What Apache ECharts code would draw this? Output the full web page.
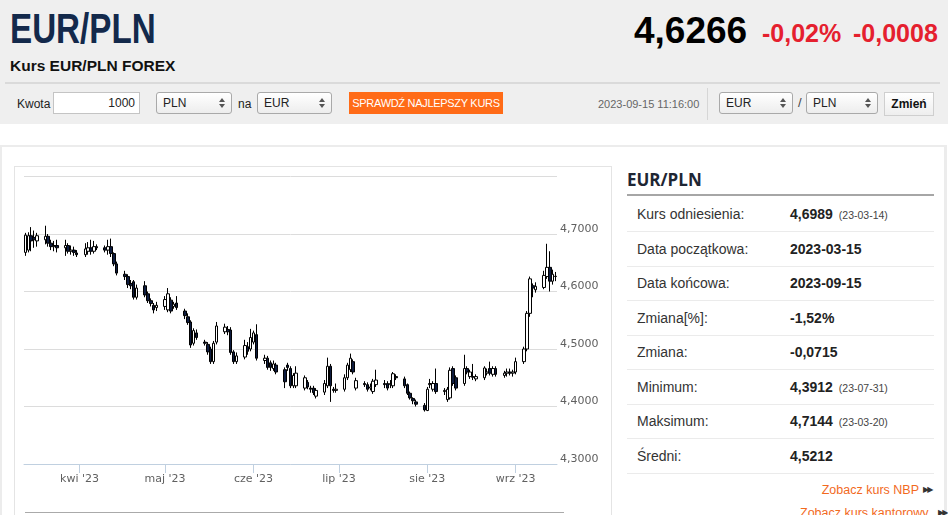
<!DOCTYPE html>
<html><head><meta charset="utf-8">
<script src="https://cdn.jsdelivr.net/npm/echarts@6.0.0/dist/echarts.min.js"></script>
<style>
html,body{margin:0;padding:0;width:948px;height:515px;overflow:hidden;background:#fff;font-family:Arial,"Liberation Sans",sans-serif;color:#222;}
.a{position:absolute;white-space:nowrap;}
.sel{position:absolute;top:92px;height:22px;box-sizing:border-box;border:1px solid #a9a9a9;border-radius:3px;background:linear-gradient(#ffffff,#ededed);font-size:12px;line-height:20px;padding-left:6px;color:#222;}
.sel::before,.sel::after{content:"";position:absolute;right:6px;width:0;height:0;border-left:3px solid transparent;border-right:3px solid transparent;}
.sel::before{top:5px;border-bottom:4px solid #555;}
.sel::after{top:11px;border-top:4px solid #555;}
.row{position:absolute;left:627px;width:307px;height:34px;border-bottom:1px solid #ebebeb;font-size:14px;}
.row .l{position:absolute;left:10px;top:0;line-height:34px;color:#333;}
.row .v{position:absolute;left:163px;top:0;line-height:34px;font-weight:bold;color:#222;}
.row .v small{font-weight:normal;font-size:10.5px;color:#444;margin-left:6px;}
</style></head>
<body>
<div class="a" style="left:0;top:0;width:948px;height:124px;background:#efefef;"></div>
<div class="a" style="left:10px;top:8px;font-size:42px;line-height:42px;font-weight:bold;color:#13294b;transform:scaleX(0.79);transform-origin:left top;">EUR/PLN</div>
<div class="a" style="left:634px;top:12px;font-size:37px;line-height:37px;font-weight:bold;color:#000;">4,6266</div>
<div class="a" style="left:762px;top:21px;font-size:25px;line-height:25px;font-weight:bold;color:#e5202e;">-0,02%</div>
<div class="a" style="left:853px;top:21px;font-size:25px;line-height:25px;font-weight:bold;color:#e5202e;">-0,0008</div>
<div class="a" style="left:10px;top:58px;font-size:15.5px;line-height:15.5px;font-weight:bold;color:#111;">Kurs EUR/PLN FOREX</div>
<div class="a" style="left:5px;top:82px;width:935px;height:2px;background:#dadada;"></div>
<div class="a" style="left:17px;top:97px;font-size:12px;line-height:14px;color:#222;">Kwota</div>
<div class="a" style="left:53px;top:92px;width:87px;height:22px;box-sizing:border-box;border:1px solid #c4c4c4;background:#fff;font-size:12px;line-height:20px;text-align:right;padding-right:4px;">1000</div>
<div class="sel" style="left:156px;width:76px;">PLN</div>
<div class="a" style="left:238px;top:97px;font-size:12px;line-height:14px;">na</div>
<div class="sel" style="left:257px;width:75px;">EUR</div>
<div class="a" style="left:349px;top:92px;width:154px;height:22px;background:#ff6b17;color:#fff;font-size:11px;line-height:22px;text-align:center;letter-spacing:-0.3px;">SPRAWDŹ NAJLEPSZY KURS</div>
<div class="a" style="left:598px;top:98px;font-size:11px;line-height:12px;color:#666;">2023-09-15 11:16:00</div>
<div class="a" style="left:707px;top:88px;width:1px;height:32px;background:#d6d6d6;"></div>
<div class="sel" style="left:719px;width:74px;">EUR</div>
<div class="a" style="left:798px;top:96px;font-size:13px;line-height:14px;color:#444;">/</div>
<div class="sel" style="left:806px;width:72px;">PLN</div>
<div class="a" style="left:884px;top:92px;width:50px;height:24px;box-sizing:border-box;border:1px solid #cfcfcf;background:linear-gradient(#ffffff,#eeeeee);font-size:12px;line-height:22px;font-weight:bold;text-align:center;color:#111;">Zmień</div>

<div class="a" style="left:0;top:145px;width:942px;height:380px;border-top:2px solid #ececec;border-left:2px solid #ececec;border-right:3px solid #ececec;"></div>
<div class="a" style="left:14px;top:166px;width:596px;height:360px;border:1px solid #e4e4e4;"></div>
<div id="chart" class="a" style="left:15px;top:167px;width:596px;height:348px;"></div>
<div class="a" style="left:25px;top:512px;width:539px;height:1px;background:#aaaaaa;"></div>

<div class="a" style="left:627px;top:169px;font-family:'Open Sans',Arial,sans-serif;font-size:17px;line-height:22px;font-weight:bold;color:#1e2633;">EUR/PLN</div>
<div class="a" style="left:627px;top:194px;width:307px;height:2px;background:#a6a6a6;"></div>
<div class="row" style="top:197px;"><span class="l">Kurs odniesienia:</span><span class="v">4,6989<small>(23-03-14)</small></span></div>
<div class="row" style="top:231.5px;"><span class="l">Data początkowa:</span><span class="v">2023-03-15</span></div>
<div class="row" style="top:266px;"><span class="l">Data końcowa:</span><span class="v">2023-09-15</span></div>
<div class="row" style="top:300.5px;"><span class="l">Zmiana[%]:</span><span class="v">-1,52%</span></div>
<div class="row" style="top:335px;"><span class="l">Zmiana:</span><span class="v">-0,0715</span></div>
<div class="row" style="top:369.5px;"><span class="l">Minimum:</span><span class="v">4,3912<small>(23-07-31)</small></span></div>
<div class="row" style="top:404px;"><span class="l">Maksimum:</span><span class="v">4,7144<small>(23-03-20)</small></span></div>
<div class="row" style="top:438.5px;"><span class="l">Średni:</span><span class="v">4,5212</span></div>
<div class="a" style="right:29px;top:483px;font-size:12.5px;line-height:14px;color:#f26a1e;">Zobacz kurs NBP</div>
<div class="a" style="left:923px;top:484px;font-family:'DejaVu Sans';font-size:8px;line-height:12px;color:#333;letter-spacing:-2px;">▶▶</div>
<div class="a" style="left:800px;top:506px;font-size:12.5px;line-height:14px;color:#f26a1e;">Zobacz kurs kantorowy</div>
<div class="a" style="left:938px;top:507px;font-family:'DejaVu Sans';font-size:8px;line-height:12px;color:#333;letter-spacing:-2px;">▶▶</div>

<script>
// calendar range shown on the x axis
const firstDay = '2023-03-13';
const lastDay = '2023-09-15';
const monthNames = ['sty','lut','mar','kwi','maj','cze','lip','sie','wrz','paź','lis','gru'];
const yTicks = { min: 4.3, max: 4.8, step: 0.1 };

// OHLC per trading day (Mon–Fri) from 2023-03-13 to 2023-09-15
const opens = [
4.668,4.672,4.697,4.694,4.688, 4.690,4.696,4.684,4.678,4.680, 4.676,4.680,4.670,4.672,4.667,
4.664,4.670,4.676,4.670,4.678, 4.676,4.672,4.678,4.666,4.648, 4.630,4.626,4.614,4.617,4.590,
4.610,4.596,4.584,4.576,4.572, 4.574,4.568,4.585,4.574,4.580, 4.566,4.556,4.547,4.510,4.528,
4.512,4.508,4.500,4.478,4.512, 4.530,4.534,4.533,4.495,4.478, 4.486,4.504,4.500,4.512,4.525,
4.480,4.484,4.476,4.466,4.472, 4.464,4.472,4.466,4.436,4.436, 4.432,4.442,4.432,4.432,4.418,
4.425,4.436,4.470,4.430,4.428, 4.430,4.450,4.464,4.478,4.432, 4.440,4.438,4.432,4.426,4.438,
4.440,4.440,4.438,4.436,4.452, 4.448,4.438,4.423,4.414,4.408, 4.402,4.393,4.438,4.430,4.440,
4.426,4.412,4.415,4.466,4.450, 4.440,4.466,4.452,4.452,4.448, 4.450,4.458,4.466,4.456,4.466,
4.454,4.458,4.460,4.458,4.460, 4.478,4.500,4.562,4.610,4.603, 4.607,4.626,4.642,4.618,4.626];
const closes = [
4.698,4.697,4.688,4.690,4.697, 4.696,4.684,4.678,4.680,4.676, 4.680,4.670,4.672,4.668,4.664,
4.674,4.676,4.670,4.678,4.676, 4.672,4.678,4.666,4.648,4.632, 4.626,4.612,4.610,4.590,4.606,
4.594,4.584,4.579,4.568,4.576, 4.586,4.596,4.566,4.578,4.572, 4.558,4.546,4.507,4.532,4.520,
4.510,4.495,4.478,4.510,4.540, 4.538,4.530,4.494,4.478,4.488, 4.506,4.496,4.520,4.528,4.484,
4.484,4.468,4.468,4.474,4.460, 4.443,4.468,4.436,4.454,4.458, 4.450,4.434,4.430,4.424,4.428,
4.440,4.470,4.436,4.428,4.430, 4.450,4.472,4.484,4.460,4.445, 4.438,4.430,4.434,4.444,4.446,
4.438,4.432,4.440,4.457,4.450, 4.436,4.423,4.415,4.410,4.404, 4.394,4.430,4.440,4.440,4.426,
4.428,4.430,4.463,4.440,4.432, 4.466,4.460,4.460,4.451,4.452, 4.467,4.460,4.458,4.466,4.456,
4.458,4.460,4.458,4.460,4.478, 4.500,4.562,4.622,4.606,4.609, 4.628,4.642,4.618,4.630,4.6266];
const lows = [
4.662,4.668,4.670,4.676,4.678, 4.682,4.678,4.672,4.670,4.668, 4.662,4.666,4.664,4.662,4.660,
4.660,4.664,4.664,4.666,4.672, 4.668,4.664,4.660,4.644,4.628, 4.620,4.606,4.604,4.586,4.586,
4.590,4.580,4.574,4.562,4.566, 4.568,4.564,4.562,4.570,4.568, 4.552,4.542,4.502,4.506,4.516,
4.506,4.490,4.474,4.474,4.508, 4.526,4.524,4.490,4.474,4.474, 4.482,4.490,4.496,4.508,4.480,
4.474,4.464,4.462,4.462,4.456, 4.432,4.462,4.432,4.432,4.432, 4.428,4.430,4.424,4.420,4.414,
4.420,4.432,4.408,4.424,4.424, 4.426,4.446,4.460,4.456,4.428, 4.434,4.426,4.428,4.422,4.434,
4.432,4.428,4.432,4.432,4.446, 4.432,4.420,4.412,4.404,4.400, 4.3912,4.392,4.432,4.426,4.422,
4.420,4.408,4.412,4.436,4.428, 4.436,4.456,4.448,4.446,4.444, 4.446,4.454,4.454,4.452,4.452,
4.450,4.452,4.454,4.452,4.456, 4.474,4.496,4.556,4.590,4.598, 4.604,4.622,4.600,4.612,4.618];
const highs = [
4.702,4.703,4.712,4.706,4.702, 4.7144,4.700,4.690,4.688,4.690, 4.690,4.684,4.680,4.678,4.672,
4.684,4.686,4.690,4.688,4.682, 4.680,4.690,4.692,4.668,4.652, 4.636,4.630,4.620,4.620,4.612,
4.618,4.600,4.588,4.580,4.582, 4.592,4.606,4.590,4.582,4.592, 4.570,4.562,4.550,4.536,4.534,
4.516,4.512,4.504,4.514,4.547, 4.544,4.540,4.538,4.498,4.494, 4.516,4.512,4.535,4.532,4.543,
4.490,4.488,4.480,4.480,4.476, 4.468,4.476,4.470,4.458,4.470, 4.454,4.446,4.436,4.436,4.432,
4.446,4.485,4.474,4.434,4.440, 4.456,4.476,4.492,4.482,4.450, 4.444,4.442,4.440,4.448,4.464,
4.446,4.444,4.446,4.460,4.456, 4.452,4.440,4.426,4.416,4.412, 4.406,4.434,4.448,4.444,4.466,
4.432,4.434,4.468,4.470,4.454, 4.490,4.470,4.464,4.474,4.456, 4.470,4.466,4.478,4.470,4.470,
4.462,4.466,4.466,4.464,4.485, 4.504,4.566,4.626,4.614,4.616, 4.636,4.683,4.670,4.638,4.634];

// build calendar categories and map trading days onto them
const days = [];
for (let t = Date.parse(firstDay + 'T00:00:00Z'); t <= Date.parse(lastDay + 'T00:00:00Z'); t += 86400000) {
  days.push(new Date(t).toISOString().slice(0, 10));
}
const tradeIdx = [];
days.forEach((d, k) => { const w = new Date(d + 'T00:00:00Z').getUTCDay(); if (w !== 0 && w !== 6) tradeIdx.push(k); });
const candles = tradeIdx.map((k, i) => [k, opens[i], closes[i], lows[i], highs[i]]);

const isMonthStart = (idx, val) => val.slice(8) === '01';
const chart = echarts.init(document.getElementById('chart'), null, { renderer: 'canvas' });
chart.setOption({
  animation: false,
  grid: { left: 9, right: 54, top: 9.5, bottom: 51 },
  xAxis: {
    type: 'category', data: days, boundaryGap: true,
    axisLine: { lineStyle: { color: '#c0d0e0', width: 1 } },
    axisTick: { show: true, interval: isMonthStart, alignWithLabel: true, length: 9, lineStyle: { color: '#c0d0e0' } },
    axisLabel: {
      interval: isMonthStart, margin: 10, color: '#606060', fontSize: 11, fontFamily: 'DejaVu Sans',
      formatter: v => monthNames[+v.slice(5, 7) - 1] + " '" + v.slice(2, 4)
    },
    splitLine: { show: false }
  },
  yAxis: {
    type: 'value', position: 'right', min: yTicks.min, max: yTicks.max, interval: yTicks.step, scale: true,
    axisLine: { show: false }, axisTick: { show: false },
    splitLine: { lineStyle: { color: '#dcdcdc', width: 1 } },
    axisLabel: {
      margin: 3, color: '#606060', fontSize: 11, fontFamily: 'DejaVu Sans', showMaxLabel: false,
      verticalAlign: 'bottom', lineHeight: 10,
      formatter: v => v.toFixed(4).replace('.', ',')
    }
  },
  series: [{
    type: 'candlestick',
    data: candles,
    encode: { x: 0, y: [1, 2, 3, 4] },
    barWidth: 3,
    itemStyle: { color: '#ffffff', color0: '#0d1b3e', borderColor: '#000000', borderColor0: '#000000', borderWidth: 1 }
  }]
});
</script>
</body></html>
